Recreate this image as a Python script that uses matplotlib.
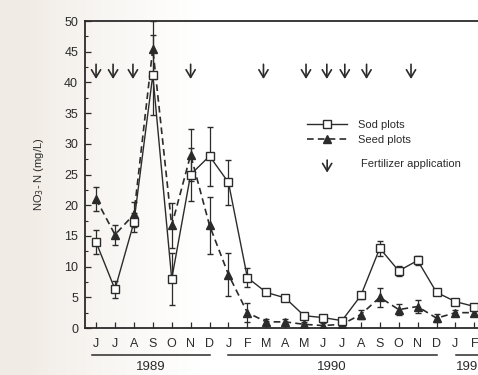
import matplotlib
matplotlib.use("Agg")
import matplotlib.pyplot as plt
from matplotlib.lines import Line2D
import numpy as np

# 月 (1989年6月 ～ 1991年2月)
months = ["J", "J", "A", "S", "O", "N", "D",
          "J", "F", "M", "A", "M", "J", "J", "A", "S", "O", "N", "D",
          "J", "F"]

# Sod plots
sod = [14.0, 6.3, 17.2, 41.2, 8.0, 25.0, 28.0,
       23.7, 8.2, 5.8, 4.9, 2.0, 1.7, 1.2, 5.3, 13.0, 9.3, 11.0, 5.8,
       4.3, 3.5]
sod_err = [2.0, 1.4, 1.5, 6.5, 4.2, 4.3, 4.8,
           3.6, 1.5, 0.4, 0.4, 0.3, 0.3, 0.3, 0.5, 1.2, 0.8, 0.8, 0.4,
           0.3, 0.3]

# Seed plots
seed = [21.0, 15.2, 18.5, 45.5, 16.7, 28.2, 16.7,
        8.7, 2.5, 1.0, 1.0, 0.6, 0.4, 0.6, 2.2, 5.0, 3.0, 3.5, 1.6,
        2.5, 2.5]
seed_err = [2.0, 1.6, 2.0, 4.5, 3.6, 4.2, 4.6,
            3.5, 1.6, 0.5, 0.5, 0.4, 0.4, 0.4, 0.8, 1.5, 0.9, 1.0, 0.7,
            0.5, 0.6]

# 施肥の時期 (月インデックス)
fert = [0.0, 0.9, 1.95, 5.0, 8.85, 11.1, 12.2, 13.15, 14.3, 16.65]

years = ["1989", "1990", "1991"]
year_span = [(-0.2, 6.0), (6.95, 18.0), (19.05, 21.5)]

ink = "#2b2b2b"
plt.rcParams["font.family"] = ["Liberation Sans", "DejaVu Sans"]

fig = plt.figure(figsize=(4.78, 3.75), dpi=100)

# スキャンっぽい背景
bg = fig.add_axes([0, 0, 1, 1], zorder=-10)
grad = np.linspace(0, 1, 478)
w = np.clip((grad * 478 - 30) / 170, 0, 1) ** 0.8
c0 = np.array([0.945, 0.925, 0.9])
c1 = np.array([1.0, 1.0, 1.0])
img = (c0[None, :] * (1 - w[:, None]) + c1[None, :] * w[:, None])[None, :, :]
bg.imshow(np.repeat(img, 2, axis=0), aspect="auto", extent=[0, 1, 0, 1])
bg.axis("off")

ax = fig.add_axes([0.178, 0.1253, 0.854, 0.8187])
ax.patch.set_alpha(0)
x = np.arange(len(months))

ax.errorbar(x, sod, yerr=sod_err, color=ink, lw=1.0, ls="-", marker="s",
            ms=6, mfc="white", mec=ink, mew=1.0, capsize=2.5, elinewidth=0.9,
            zorder=4)
ax.errorbar(x, seed, yerr=seed_err, color=ink, lw=1.2, ls=(0, (4, 2.5)),
            marker="^", ms=5.5, mfc=ink, mec=ink, capsize=2.5,
            elinewidth=0.9, zorder=3)

for f in fert:
    ax.annotate("", xy=(f, 40.1), xytext=(f, 43.4),
                arrowprops=dict(arrowstyle="->,head_length=0.55,head_width=0.33",
                                color=ink, lw=1.2))

ax.set_xlim(-0.58, 21.0)
ax.set_ylim(0, 50)
ax.set_yticks(np.arange(0, 51, 5))
ax.set_yticks(np.arange(0, 50, 2.5), minor=True)
ax.set_xticks(x)
ax.set_xticklabels(months)
ax.tick_params(axis="both", direction="in", colors=ink, labelsize=9,
               length=4, width=0.9)
ax.tick_params(axis="y", which="minor", direction="in", length=2.5, width=0.8,
               colors=ink)
ax.tick_params(axis="x", pad=7)
ax.tick_params(axis="y", pad=5)
for s in ax.spines.values():
    s.set_color(ink)
    s.set_linewidth(1.3)

ax.set_ylabel("NO$_3$- N (mg/L)", fontsize=8, color=ink, labelpad=13)

# 年の区切り
tr = ax.get_xaxis_transform()
for yr, (a, b) in zip(years, year_span):
    ax.add_line(Line2D([a, b], [-0.088, -0.088], transform=tr, color=ink,
                       lw=1.1, clip_on=False))
    if yr == "1991":
        ax.text(a, -0.128, yr, transform=tr, ha="left", va="center",
                fontsize=9.5, color=ink)
    else:
        ax.text((a + b) / 2, -0.128, yr, transform=tr, ha="center",
                va="center", fontsize=9.5, color=ink)

# 凡例
h_sod = Line2D([], [], color=ink, lw=1.0, marker="s", ms=6, mfc="white",
               mec=ink)
h_seed = Line2D([], [], color=ink, lw=1.2, ls=(0, (4, 2.5)), marker="^",
                ms=5.5, mfc=ink, mec=ink)
leg = ax.legend([h_sod, h_seed], ["Sod plots", "Seed plots"], frameon=False,
                loc="upper left", bbox_to_anchor=(0.52, 0.71), fontsize=8,
                handlelength=3.6, handletextpad=1.0, labelspacing=0.45)
for t in leg.get_texts():
    t.set_color(ink)
ax.annotate("", xy=(0.593, 0.497), xytext=(0.593, 0.556),
            xycoords="axes fraction",
            arrowprops=dict(arrowstyle="->,head_length=0.55,head_width=0.33",
                            color=ink, lw=1.2))
ax.text(0.677, 0.535, "Fertilizer application", transform=ax.transAxes,
        fontsize=8, color=ink, va="center")

fig.savefig("out.png", dpi=100)
